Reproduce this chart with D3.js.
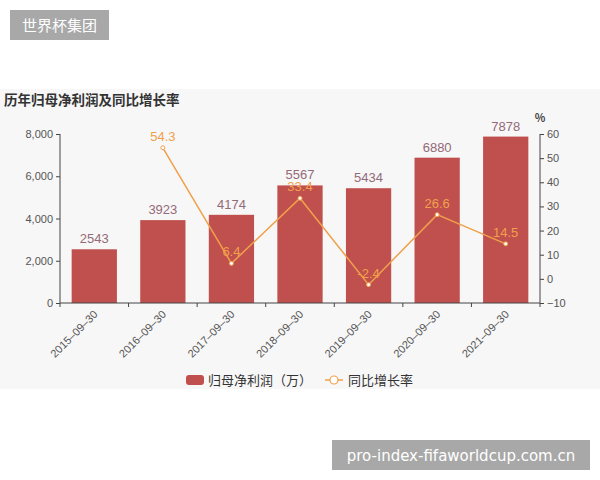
<!DOCTYPE html>
<html><head><meta charset="utf-8">
<script src="https://cdn.jsdelivr.net/npm/d3@7"></script>
<style>html,body{margin:0;padding:0;background:#fff;}svg{display:block;font-family:"Noto Sans CJK SC","Liberation Sans",Arial,sans-serif;}</style>
</head><body>
<script>
const categories = ["2015-09-30","2016-09-30","2017-09-30","2018-09-30","2019-09-30","2020-09-30","2021-09-30"];
const profit = [2543,3923,4174,5567,5434,6880,7878];
const growth = [null,54.3,6.4,33.4,-2.4,26.6,14.5];
const leftTicks = [0,2000,4000,6000,8000];
const rightTicks = [-10,0,10,20,30,40,50,60];
const title = "历年归母净利润及同比增长率";
const legendBar = "归母净利润（万）";
const legendLine = "同比增长率";

const W=600,H=480;
const svg=d3.select("body").append("svg").attr("width",W).attr("height",H);
svg.append("rect").attr("x",0).attr("y",0).attr("width",W).attr("height",H).attr("fill","#fff");
svg.append("rect").attr("x",0).attr("y",89).attr("width",W).attr("height",300).attr("fill","#f7f7f7");

// watermarks
svg.append("rect").attr("x",10).attr("y",10).attr("width",99).attr("height",30).attr("fill","#a8a8a8");
svg.append("text").attr("x",59.5).attr("y",31).attr("text-anchor","middle").attr("fill","#fff").attr("font-size",15).text("世界杯集团");
svg.append("rect").attr("x",332).attr("y",440).attr("width",258).attr("height",30).attr("fill","#a8a8a8");
svg.append("text").attr("x",461).attr("y",461).attr("text-anchor","middle").attr("fill","#fff").attr("font-size",15).attr("font-family","DejaVu Sans, sans-serif").text("pro-index-fifaworldcup.com.cn");

svg.append("text").attr("x",4).attr("y",105).attr("font-size",13.5).attr("font-weight","bold").attr("fill","#333").text(title);

const x=d3.scaleBand().domain(categories).range([60,540]).paddingInner(0.34).paddingOuter(0.17);
const xb=d3.scaleBand().domain(categories).range([60,540]);
const yL=d3.scaleLinear().domain([0,8000]).range([303,134]);
const yR=d3.scaleLinear().domain([-10,60]).range([303,134]);

const barColor="#c0504d", lineColor="#f0a04b", axisColor="#444", textColor="#555";
const numFont="Liberation Sans, Arial, sans-serif";

// bars
svg.selectAll(".bar").data(profit).enter().append("rect")
 .attr("x",(d,i)=>x(categories[i])).attr("width",x.bandwidth())
 .attr("y",d=>yL(d)).attr("height",d=>yL(0)-yL(d)).attr("fill",barColor);
svg.selectAll(".bl").data(profit).enter().append("text")
 .attr("x",(d,i)=>x(categories[i])+x.bandwidth()/2).attr("y",d=>yL(d)-6)
 .attr("text-anchor","middle").attr("font-size",13).attr("font-family",numFont).attr("fill","#946a78").text(d=>d);

// axes
const gL=svg.append("g").attr("transform","translate(60,0)")
 .call(d3.axisLeft(yL).tickValues(leftTicks).tickSize(4).tickFormat(d3.format(",")));
const gR=svg.append("g").attr("transform","translate(540,0)")
 .call(d3.axisRight(yR).tickValues(rightTicks).tickSize(4).tickFormat(d=>d<0?"−"+Math.abs(d):d));
const gX=svg.append("g").attr("transform","translate(0,303)")
 .call(d3.axisBottom(xb).tickSize(4).tickFormat(d=>d.replace(/-/g,"–")));
gX.selectAll(".tick line").attr("transform",`translate(${-xb.bandwidth()/2},0)`);
gX.append("line").attr("x1",540).attr("x2",540).attr("y1",0).attr("y2",4).attr("stroke",axisColor);
[gL,gR,gX].forEach(g=>{g.select(".domain").attr("stroke",axisColor);g.selectAll(".tick line").attr("stroke",axisColor);
 g.selectAll("text").attr("fill",textColor).attr("font-size",11).attr("font-family",numFont);});
gX.select(".domain").attr("d","M60,0H540");
gL.select(".domain").attr("d","M0,134V303");
gR.select(".domain").attr("d","M0,134V303");
gX.selectAll(".tick text").attr("text-anchor","end").attr("dy",0).attr("y",0)
 .attr("transform","translate(4,12) rotate(-45)");
svg.append("text").attr("x",540).attr("y",122).attr("text-anchor","middle").attr("font-size",11).attr("font-weight","bold").attr("fill","#444").text("%");

// line
const pts=growth.map((v,i)=>({v,c:categories[i]})).filter(d=>d.v!==null);
const line=d3.line().x(d=>xb(d.c)+xb.bandwidth()/2).y(d=>yR(d.v));
svg.append("path").datum(pts).attr("d",line).attr("fill","none").attr("stroke",lineColor).attr("stroke-width",1.5);
svg.selectAll(".pt").data(pts).enter().append("circle")
 .attr("cx",d=>xb(d.c)+xb.bandwidth()/2).attr("cy",d=>yR(d.v)).attr("r",2)
 .attr("fill","#fff").attr("stroke",lineColor).attr("stroke-width",1);
svg.selectAll(".pl").data(pts).enter().append("text")
 .attr("x",d=>xb(d.c)+xb.bandwidth()/2).attr("y",d=>yR(d.v)-7)
 .attr("text-anchor","middle").attr("font-size",13).attr("font-family",numFont).attr("fill",lineColor).text(d=>d.v);

// legend
svg.append("rect").attr("x",186).attr("y",375).attr("width",18).attr("height",10).attr("rx",3).attr("fill",barColor);
svg.append("text").attr("x",208).attr("y",384.5).attr("font-size",13).attr("fill","#333").text(legendBar);
svg.append("line").attr("x1",325).attr("x2",343).attr("y1",380).attr("y2",380).attr("stroke",lineColor).attr("stroke-width",1.5);
svg.append("circle").attr("cx",334).attr("cy",380).attr("r",4).attr("fill","#fff").attr("stroke",lineColor).attr("stroke-width",1.2);
svg.append("text").attr("x",348).attr("y",384.5).attr("font-size",13).attr("fill","#333").text(legendLine);
</script>
</body></html>
